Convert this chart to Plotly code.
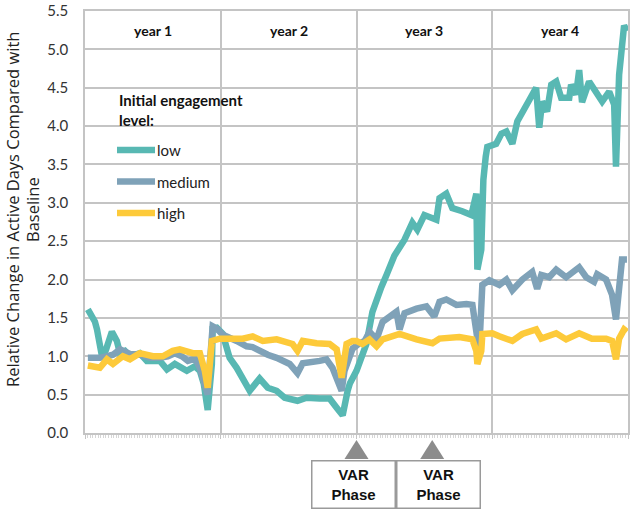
import plotly.graph_objects as go

# ---------------- data (weeks since start, relative change) ----------------
low_weeks = [1.1, 2.7, 3.8, 4.6, 5.4, 6.5, 8.0, 10.3, 12.2, 13.4, 15.3, 17.2, 21.0, 23.7, 28.7, 31.4,
             34.4, 37.1, 39.0, 42.1, 44.0, 45.5, 47.0, 48.6, 48.9, 50.5, 52.0, 52.8, 53.5, 55.4, 58.1,
             61.2, 63.1, 66.9, 70.0, 73.4, 76.5, 81.4, 84.9, 89.9, 93.7, 96.4, 98.7, 100.6, 101.5,
             104.0, 105.2, 107.8, 110.1, 111.3, 113.5, 115.5, 118.5, 122.4, 125.4, 127.3, 130.0,
             134.6, 135.8, 138.4, 140.7, 144.5, 148.0, 149.9, 150.3, 151.8, 152.6, 153.5, 154.1,
             157.5, 159.5, 161.4, 163.7, 165.6, 167.5, 170.2, 172.8, 174.0, 175.1, 177.0, 178.6,
             180.5, 182.4, 185.5, 186.2, 188.1, 189.3, 190.4, 193.1, 195.8, 198.1, 200.8, 202.7,
             203.4, 204.6, 206.5, 207.6]
low_values = [1.61, 1.52, 1.45, 1.35, 1.15, 1.00, 1.08, 1.32, 1.20, 1.04, 1.07, 1.00, 1.04, 0.94, 0.94, 0.83,
              0.90, 0.85, 0.81, 0.87, 0.81, 0.64, 0.30, 0.90, 1.36, 1.37, 1.32, 1.29, 1.20, 0.98, 0.85,
              0.68, 0.55, 0.71, 0.59, 0.55, 0.46, 0.42, 0.46, 0.45, 0.45, 0.33, 0.23, 0.55, 0.65,
              0.81, 0.94, 1.16, 1.58, 1.71, 1.90, 2.06, 2.31, 2.52, 2.74, 2.65, 2.84,
              2.78, 3.06, 3.12, 2.93, 2.89, 2.84, 3.12, 2.13, 2.39, 3.30, 3.60, 3.73,
              3.77, 3.90, 3.93, 3.77, 4.06, 4.19, 4.34, 4.50, 3.98, 4.32, 4.19, 4.54,
              4.58, 4.37, 4.37, 4.54, 4.41, 4.73, 4.31, 4.58, 4.45, 4.32, 4.45, 4.28,
              3.47, 4.67, 5.31, 5.24]

medium_weeks = [1.1, 3.8, 5.7, 8.4, 10.7, 13.4, 17.2, 21.0, 24.9, 28.7, 31.7, 34.4, 37.1, 39.4, 42.1,
                44.0, 46.3, 47.0, 47.8, 48.9, 50.5, 52.8, 58.1, 61.9, 64.2, 66.9, 70.0, 73.4, 78.4,
                81.4, 83.4, 89.9, 92.5, 94.8, 98.3, 99.4, 102.5, 105.2, 107.1, 109.0, 111.7, 114.0,
                115.9, 119.3, 120.5, 122.4, 127.0, 130.8, 133.8, 135.8, 138.4, 142.3, 146.1, 148.4,
                150.3, 151.0, 152.2, 154.9, 158.7, 161.4, 163.7, 167.5, 171.3, 173.2, 174.8, 177.8,
                180.5, 184.3, 189.3, 192.0, 195.0, 196.2, 199.6, 201.9, 203.4, 204.6, 205.7, 207.6]
medium_values = [0.98, 0.97, 0.98, 1.00, 1.02, 1.09, 1.03, 1.02, 0.98, 0.98, 1.00, 1.04, 1.00, 0.94, 0.97,
                 0.85, 0.55, 0.50, 0.90, 1.39, 1.36, 1.28, 1.20, 1.13, 1.12, 1.07, 1.02, 0.98, 0.90,
                 0.78, 0.91, 0.94, 0.96, 0.85, 0.55, 0.81, 1.10, 1.17, 1.20, 1.32, 1.22, 1.45,
                 1.50, 1.58, 1.35, 1.56, 1.62, 1.65, 1.52, 1.71, 1.74, 1.67, 1.68, 1.67,
                 1.23, 1.07, 1.93, 1.99, 1.93, 2.00, 1.86, 2.00, 2.10, 1.88, 2.06, 2.03,
                 2.13, 2.03, 2.16, 2.03, 1.97, 2.07, 2.00, 1.80, 1.48, 1.93, 2.26, 2.26]

high_weeks = [1.1, 3.8, 5.7, 8.4, 10.7, 14.5, 17.2, 21.0, 26.0, 29.8, 33.6, 36.3, 41.3, 44.0, 45.9,
              47.0, 48.6, 51.6, 55.4, 60.4, 64.2, 68.1, 73.4, 79.5, 81.4, 83.4, 88.7, 93.7, 96.4,
              98.3, 100.2, 102.5, 104.0, 106.3, 109.0, 111.7, 114.0, 120.5, 127.0, 133.1, 135.8,
              143.4, 148.4, 149.9, 150.3, 151.8, 152.2, 156.0, 158.7, 163.7, 167.5, 172.8, 174.8,
              180.5, 184.3, 189.3, 194.2, 199.6, 201.9, 203.4, 204.6, 206.5, 207.6]
high_values = [0.88, 0.86, 0.85, 0.96, 0.90, 1.00, 0.96, 1.04, 1.00, 1.00, 1.07, 1.09, 1.04, 1.04, 0.81,
               0.59, 1.20, 1.23, 1.23, 1.23, 1.26, 1.20, 1.22, 1.16, 1.07, 1.20, 1.17, 1.16, 1.09,
               0.72, 1.16, 1.20, 1.20, 1.16, 1.22, 1.13, 1.22, 1.29, 1.22, 1.17, 1.23,
               1.25, 1.22, 1.07, 0.90, 1.07, 1.29, 1.30, 1.26, 1.20, 1.29, 1.35, 1.23,
               1.30, 1.22, 1.30, 1.23, 1.23, 1.20, 0.96, 1.23, 1.35, 1.32]

series_names = ["low", "medium", "high"]
series_colors = ["#58b8b3", "#7fa2b8", "#fdca3a"]
year_labels = ["year 1", "year 2", "year 3", "year 4"]
weeks_per_year = 52
var_phase_weeks = [104, 133]
y_ticks = [0.0, 0.5, 1.0, 1.5, 2.0, 2.5, 3.0, 3.5, 4.0, 4.5, 5.0, 5.5]

GRID = "#c4c4c4"
FONT = "Lato"

# plot-area geometry in pixels (used to place decorations)
BOTTOM = 433.0
TOP_MARGIN = 11
PLOT_W, PLOT_H = 543.0, BOTTOM - TOP_MARGIN

fig = go.Figure()
for name, color, xs, ys in zip(series_names, series_colors,
                               [low_weeks, medium_weeks, high_weeks],
                               [low_values, medium_values, high_values]):
    fig.add_trace(go.Scatter(x=xs, y=ys, mode="lines", name=name, showlegend=False,
                             line=dict(color=color, width=6.5)))

total_weeks = weeks_per_year * len(year_labels)

annotations = []
shapes = []
for i, lab in enumerate(year_labels):
    annotations.append(dict(x=(i + 0.5) * weeks_per_year, y=5.25, xref="x", yref="y",
                            text="<b>%s</b>" % lab, showarrow=False,
                            font=dict(family=FONT, size=14, color="#111111")))

# y-axis title (two lines placed separately for exact spacing)
for txt, px in [("Relative Change in Active Days Compared with", 12), ("Baseline", 32)]:
    annotations.append(dict(x=(px - 85) / PLOT_W, y=(BOTTOM - 210) / PLOT_H, xref="paper", yref="paper",
                            textangle=-90, text=txt, showarrow=False, xanchor="center", yanchor="middle",
                            font=dict(family="Open Sans", size=16.5, color="#222222")))

# custom legend
legend_left = (117 - 85) / PLOT_W
legend_right = (155 - 85) / PLOT_W
annotations.append(dict(x=legend_left, y=(BOTTOM - 109.5) / PLOT_H, xref="paper", yref="paper",
                        xanchor="left", yanchor="middle", align="left", showarrow=False,
                        text="<b>Initial engagement<br>level:</b>",
                        font=dict(family=FONT, size=15, color="#111111")))
for k, (name, color) in enumerate(zip(series_names, series_colors)):
    yp = (BOTTOM - (150 + 31.5 * k)) / PLOT_H
    shapes.append(dict(type="line", xref="paper", yref="paper", x0=legend_left, x1=legend_right,
                       y0=yp, y1=yp, line=dict(color=color, width=6.5)))
    annotations.append(dict(x=legend_right, y=yp, xref="paper", yref="paper", xanchor="left",
                            yanchor="middle", showarrow=False, text=name, xshift=0,
                            font=dict(family=FONT, size=15, color="#222222")))

# VAR phase markers
wk_per_px = total_weeks / PLOT_W
for k, w in enumerate(var_phase_weeks):
    top = -7 / PLOT_H
    base = -26 / PLOT_H
    hw = 12 * wk_per_px
    shapes.append(dict(type="path", xref="x", yref="paper",
                       path="M %f,%f L %f,%f L %f,%f Z" % (w - hw, base, w, top, w + hw, base),
                       fillcolor="#8c8c8c", line=dict(width=0)))
    annotations.append(dict(x=w, y=-51 / PLOT_H, xref="x", yref="paper",
                            xanchor="center", yanchor="middle",
                            xshift=(-3.5 if k == 0 else 6),
                            text="<b>VAR<br>Phase</b>", showarrow=False,
                            width=78, height=42, borderpad=2, borderwidth=1.5,
                            bordercolor="#9a9a9a", bgcolor="white",
                            font=dict(family="Liberation Sans", size=15, color="#111111")))

fig.update_layout(
    width=630, height=509,
    margin=dict(l=85, r=2, t=TOP_MARGIN, b=509 - BOTTOM, autoexpand=False),
    paper_bgcolor="white", plot_bgcolor="white",
    showlegend=False,
    annotations=annotations,
    shapes=shapes,
    xaxis=dict(range=[0, total_weeks], tickmode="array",
               tickvals=[i * weeks_per_year for i in range(len(year_labels) + 1)],
               showticklabels=False, showgrid=True, gridcolor=GRID, gridwidth=1.5,
               zeroline=False, showline=True, linecolor=GRID, linewidth=1.5, mirror=True,
               ticks="outside", ticklen=4, tickcolor=GRID,
               minor=dict(dtick=1, ticks="outside", ticklen=3, tickcolor="#d6d6d6", showgrid=False)),
    yaxis=dict(range=[0, 5.5], tickmode="array", tickvals=y_ticks,
               ticktext=["%.1f" % v for v in y_ticks],
               showgrid=True, gridcolor=GRID, gridwidth=1.5, zeroline=False,
               showline=True, linecolor=GRID, linewidth=1.5, mirror=True,
               ticks="", ticklabelstandoff=12, automargin=False, ticklabeloverflow="allow",
               tickfont=dict(family=FONT, size=15, color="#333333")),
)

fig.write_html("out.html", config={"displayModeBar": False},
               post_script="document.body.style.margin='0';")
